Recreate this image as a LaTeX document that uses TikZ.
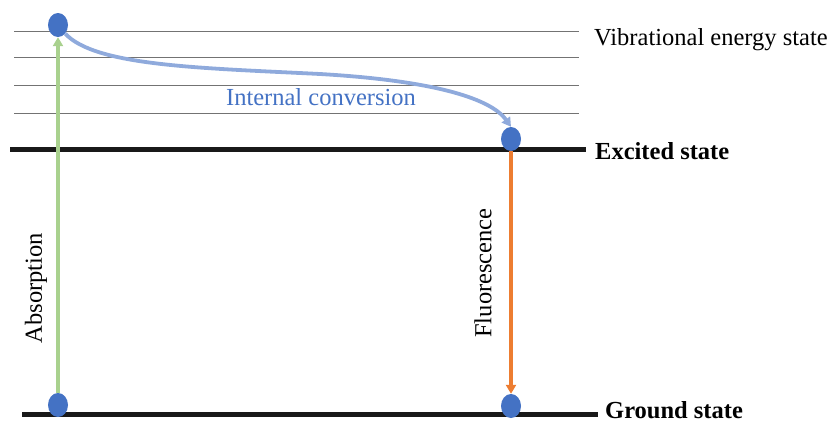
\documentclass[tikz,border=0pt]{standalone}
\usepackage{fontspec}
\setmainfont{Liberation Serif}
\usetikzlibrary{arrows.meta,shapes.geometric}
\definecolor{dotblue}{HTML}{4472C4}
\definecolor{curveblue}{HTML}{8FAADC}
\definecolor{absgreen}{HTML}{A9D18E}
\definecolor{fluorange}{HTML}{ED7D31}
\tikzset{
  vib/.style={draw=black!55, line width=0.9pt},
  level/.style={draw=black!90, line width=5pt},
  dot/.style={ellipse, fill=dotblue, minimum width=20pt, minimum height=24pt, inner sep=0pt},
  lbl/.style={font=\fontsize{24.5}{28}\selectfont, inner sep=0pt},
  tip/.style={-{Triangle[width=10pt,length=9pt]}}
}
\begin{document}
\begin{tikzpicture}[x=1pt,y=-1pt]
\useasboundingbox (0,0) rectangle (835,423);
% vibrational lines
\foreach \yy/\n in {31/a,57/b,85/c,113/d}{
  \coordinate (v\n1) at (14,\yy);
  \coordinate (v\n2) at (579,\yy);
  \draw[vib] (v\n1) -- (v\n2);
}
% levels
\coordinate (e1) at (10,149);
\coordinate (e2) at (586,149);
\draw[level] (e1) -- (e2);
\coordinate (g1) at (22,414);
\coordinate (g2) at (598,414);
\draw[level] (g1) -- (g2);
% dots
\node[dot] (top) at (58,25) {};
\node[dot] (exc) at (511,139) {};
\node[dot] (gl) at (58,405) {};
\node[dot] (gr) at (511,406) {};
% arrows
\draw[absgreen, line width=3.2pt, tip] (gl.north) -- (top.south);
\draw[fluorange, line width=3.2pt, tip] (exc.south) -- (gr.north);
\coordinate (mid) at (320,74);
\draw[curveblue, line width=3.8pt, tip] (top.-50) .. controls (95,66) and (200,68) .. (mid)
   .. controls (440,81) and (492,100) .. (exc.north);
% labels
\node[lbl, text=dotblue] (ic) at (321,97) {Internal conversion};
\node[lbl, anchor=west] (vs) at (594,40) {Vibrational energy state};
\node[lbl, anchor=west, font=\fontsize{24.5}{28}\selectfont\bfseries] (es) at (595,151) {Excited state};
\node[lbl, anchor=west, font=\fontsize{24.5}{28}\selectfont\bfseries] (gs) at (605,410) {Ground state};
\node[lbl, rotate=90] (ab) at (36,288) {Absorption};
\node[lbl, rotate=90] (fl) at (483,273) {Fluorescence};
\end{tikzpicture}
\end{document}
